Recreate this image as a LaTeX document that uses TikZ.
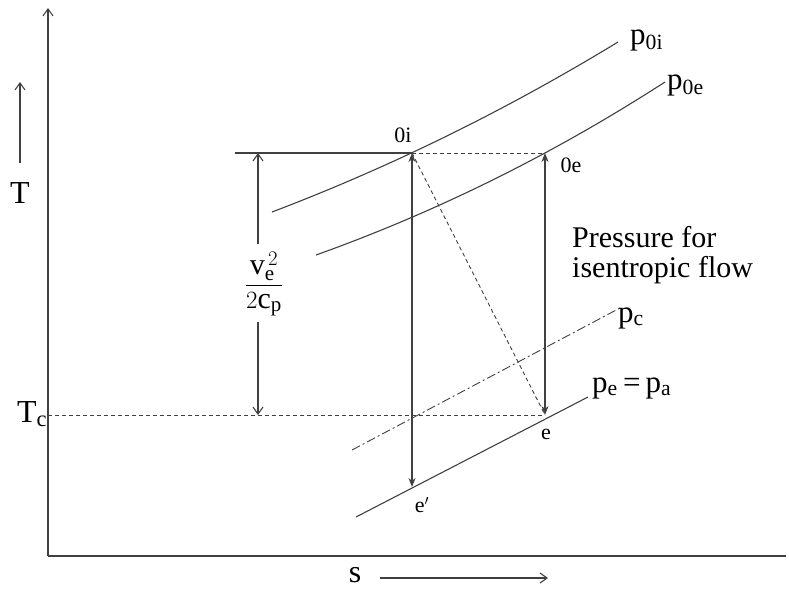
\documentclass[tikz,border=0pt]{standalone}
\usepackage{fontspec}
\setmainfont{Liberation Serif}
\usetikzlibrary{arrows.meta}
\begin{document}
\begin{tikzpicture}[x=1pt,y=-1pt,
  ln/.style={draw=black!75,line width=1.1pt},
  dsh/.style={draw=black!75,line width=0.9pt,dash pattern=on 4pt off 3pt},
  dshdot/.style={draw=black!75,line width=0.9pt,dash pattern=on 9pt off 3pt on 2pt off 3pt},
  axarrow/.style={ln,-{Straight Barb[length=7pt,width=10pt]}},
  dbl/.style={ln,{Stealth[length=9pt,width=7pt]}-{Stealth[length=9pt,width=7pt]}},
  big/.style={font=\fontsize{32}{36}\selectfont,inner sep=0pt},
  lbl/.style={font=\fontsize{31}{36}\selectfont,inner sep=0pt,anchor=west},
  mid/.style={font=\fontsize{30}{30}\selectfont,inner sep=0pt,anchor=west},
  small/.style={font=\fontsize{22}{24}\selectfont,inner sep=0pt}]
\useasboundingbox (0,0) rectangle (789,590);
% points
\coordinate (O) at (48,556);
\coordinate (Ytop) at (48,8);
\coordinate (Xend) at (786,556);
\coordinate (A0i) at (412,153);
\coordinate (A0e) at (545,153);
\coordinate (Ae) at (545,415);
\coordinate (Aep) at (412,487);
\coordinate (Tc0) at (48,415);
\coordinate (Hl) at (235,153);
\coordinate (Vtop) at (258,153);
\coordinate (Vbot) at (258,415);
\coordinate (Vu) at (258,244);
\coordinate (Vd) at (258,322);
% axes
\draw[axarrow] (O) -- (Ytop);
\draw[ln] (O) -- (Xend);
% T arrow and label
\coordinate (Ta) at (20,163);
\coordinate (Tb) at (20,82);
\draw[axarrow] (Ta) -- (Tb);
\node[big] (T) at (20,193) {T};
\coordinate (sa) at (380,578);
\coordinate (sb) at (548,578);
\draw[axarrow] (sa) -- (sb);
\node[big] (s) at (355,575) {s};
\node[big] (Tc) at (32,414) {T\textsubscript{c}};
% isobars
\coordinate (p1a) at (272,212);
\coordinate (p1b) at (618,42);
\coordinate (p2a) at (316,255);
\coordinate (p2b) at (665,82);
\draw[ln] (p1a) .. controls (393,166) and (508,109) .. (p1b);
\draw[ln] (p2a) .. controls (439,211) and (555,153) .. (p2b);
\coordinate (pc1) at (352,450);
\coordinate (pc2) at (620,308);
\draw[dshdot] (pc1) -- (pc2);
\coordinate (pe1) at (356,517);
\coordinate (pe2) at (588,397);
\draw[ln] (pe1) -- (pe2);
% horizontal references
\draw[ln] (Hl) -- (A0i);
\draw[dsh] (A0i) -- (A0e);
\draw[dsh] (Tc0) -- (Ae);
\draw[dsh] (A0i) -- (Ae);
% processes
\draw[dbl] (A0i) -- (Aep);
\draw[dbl] (A0e) -- (Ae);
% v^2/2cp
\node[font=\fontsize{30}{34}\selectfont,inner sep=0pt] (frac) at (264,284) {$\displaystyle\frac{\mathrm{v}_{\mathrm{e}}^{\,2}}{2\mathrm{c}_{\mathrm{p}}}$};
\draw[axarrow] (Vu) -- (Vtop);
\draw[axarrow] (Vd) -- (Vbot);
% labels
\node[lbl] (l0i) at (630,40) {p\textsubscript{0i}};
\node[lbl] (l0e) at (667,85) {p\textsubscript{0e}};
\node[lbl] (lpc) at (618,318) {p\textsubscript{c}};
\node[lbl] (lpe) at (592,388) {p\textsubscript{e}\,=\,p\textsubscript{a}};
\node[mid,align=left] (press) at (572,255) {Pressure for\\isentropic flow};
\node[small] (n0i) at (403,135) {0i};
\node[small] (n0e) at (571,165) {0e};
\node[small] (ne) at (546,434) {e};
\node[small] (nep) at (422,505) {e$'$};
\end{tikzpicture}
\end{document}
